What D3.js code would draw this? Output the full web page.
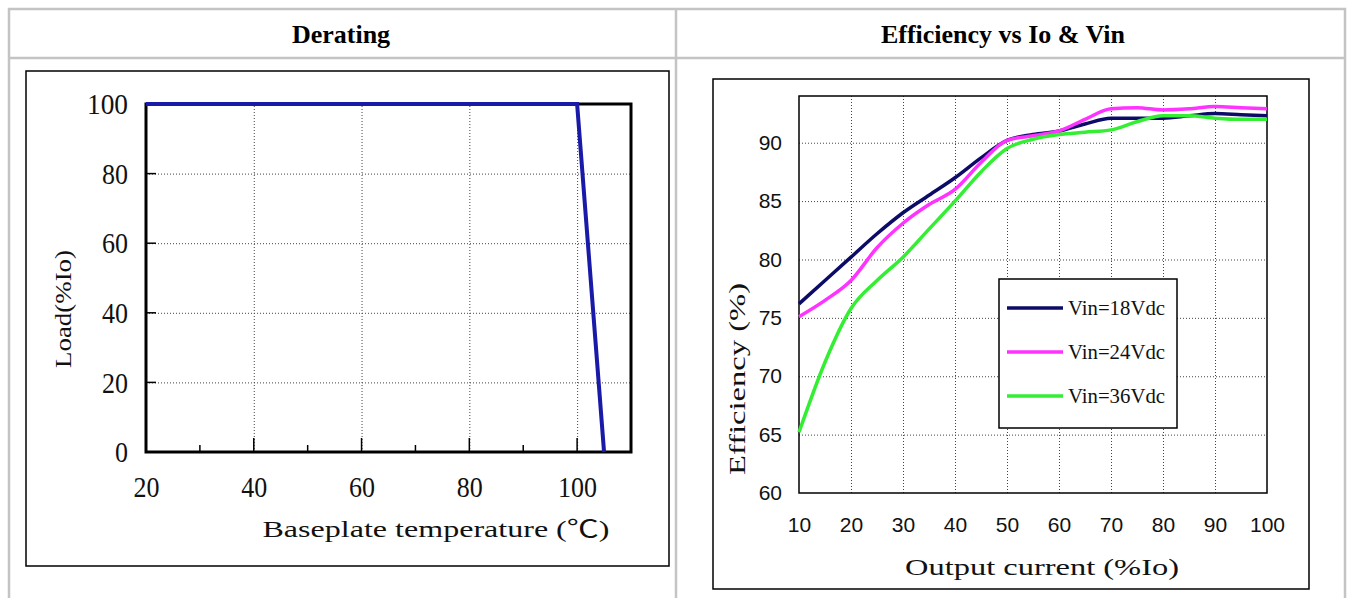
<!DOCTYPE html>
<html>
<head>
<meta charset="utf-8">
<script src="https://cdn.jsdelivr.net/npm/d3@7"></script>
<style>
body { margin: 0; background: #fff; }
.grid line { stroke: #444; stroke-width: 1; stroke-dasharray: 1,2; }
.grid path { display: none; }
.lbl path, .lbl line { display: none; }
</style>
</head>
<body>
<svg id="page" width="1351" height="598"></svg>
<script>
// derating (left)
var temps = [20, 100, 105]
var loads = [100, 100, 0]
var tempTicks = [20, 40, 60, 80, 100]
var tempMinor = [30, 50, 70, 90]
var loadTicks = [0, 20, 40, 60, 80, 100]

// efficiency (right)
var current = [10, 15, 20, 25, 30, 35, 40, 45, 50, 55, 60, 65, 70, 75, 80, 85, 90, 95, 100]
var eff18 = [76.2, 78.2, 80.2, 82.2, 84.0, 85.5, 87.0, 88.7, 90.2, 90.7, 91.0, 91.6, 92.1, 92.1, 92.1, 92.3, 92.5, 92.4, 92.3]
var eff24 = [75.1, 76.5, 78.2, 81.0, 83.1, 84.7, 86.0, 88.3, 90.2, 90.6, 91.0, 92.0, 92.9, 93.0, 92.8, 92.9, 93.1, 93.0, 92.9]
var eff36 = [65.2, 71.2, 75.8, 78.2, 80.2, 82.6, 85.0, 87.5, 89.5, 90.3, 90.7, 90.9, 91.1, 91.8, 92.3, 92.3, 92.1, 92.0, 92.0]
var seriesNames = ["Vin=18Vdc", "Vin=24Vdc", "Vin=36Vdc"]
var seriesColors = ["#0c0c68", "#ff33ff", "#33ee33"]
var currentTicks = [10, 20, 30, 40, 50, 60, 70, 80, 90, 100]
var effTicks = [60, 65, 70, 75, 80, 85, 90]

var svg = d3.select("#page")
var serif = "'Liberation Serif', 'Noto Sans CJK SC', serif"

// ---- table frame ----
var tbl = svg.append("g").attr("fill", "none").attr("stroke", "#c4c4c4").attr("stroke-width", 2.5)
tbl.append("rect").attr("x", 9).attr("y", 9).attr("width", 1336).attr("height", 620)
tbl.append("line").attr("x1", 9).attr("x2", 1345).attr("y1", 58).attr("y2", 58)
tbl.append("line").attr("x1", 676).attr("x2", 676).attr("y1", 9).attr("y2", 620)

svg.append("text").attr("x", 341).attr("y", 43)
    .attr("text-anchor", "middle")
    .style("font-family", "'Liberation Serif', serif").style("font-weight", "bold").style("font-size", "26px")
    .text("Derating")
svg.append("text").attr("x", 1003).attr("y", 43)
    .attr("text-anchor", "middle")
    .style("font-family", "'Liberation Serif', serif").style("font-weight", "bold").style("font-size", "26px")
    .text("Efficiency vs Io & Vin")

// ---- left chart ----
var L = svg.append("g")
L.append("rect").attr("x", 26).attr("y", 71).attr("width", 643).attr("height", 495)
    .attr("fill", "#fff").attr("stroke", "#000").attr("stroke-width", 1.5)

var x1 = d3.scaleLinear().domain([20, 110]).range([146, 631])
var y1 = d3.scaleLinear().domain([0, 100]).range([452, 104])

L.append("g").attr("class", "grid")
    .attr("transform", "translate(0," + y1(0) + ")")
    .call(d3.axisBottom(x1).tickValues(tempTicks.slice(1)).tickSize(-(y1(0) - y1(100))).tickFormat(""))
L.append("g").attr("class", "grid")
    .attr("transform", "translate(" + x1(20) + ",0)")
    .call(d3.axisLeft(y1).tickValues([20, 40, 60, 80]).tickSize(-(x1(110) - x1(20))).tickFormat(""))

// tick stubs
L.selectAll(".majtick").data(tempTicks.slice(1)).enter().append("line")
    .attr("x1", d => x1(d)).attr("x2", d => x1(d))
    .attr("y1", y1(0)).attr("y2", y1(0) - 14)
    .attr("stroke", "#000").attr("stroke-width", 1.5)
L.selectAll(".mintick").data(tempMinor).enter().append("line")
    .attr("x1", d => x1(d)).attr("x2", d => x1(d))
    .attr("y1", y1(0)).attr("y2", y1(0) - 7)
    .attr("stroke", "#000").attr("stroke-width", 1.5)
L.selectAll(".ytick").data([20, 40, 60, 80]).enter().append("line")
    .attr("x1", x1(20)).attr("x2", x1(20) + 10)
    .attr("y1", d => y1(d)).attr("y2", d => y1(d))
    .attr("stroke", "#000").attr("stroke-width", 1.5)

L.append("rect").attr("x", x1(20)).attr("y", y1(100))
    .attr("width", x1(110) - x1(20)).attr("height", y1(0) - y1(100))
    .attr("fill", "none").attr("stroke", "#000").attr("stroke-width", 3)

var derate = d3.line().x((d, i) => x1(temps[i])).y((d, i) => y1(loads[i]))
L.append("path").datum(temps).attr("d", derate)
    .attr("fill", "none").attr("stroke", "#1a1aa8").attr("stroke-width", 4)

// labels
var lx = L.append("g").attr("class", "lbl")
    .attr("transform", "translate(0," + y1(0) + ")")
    .call(d3.axisBottom(x1).tickValues(tempTicks).tickSize(0).tickPadding(24))
lx.selectAll("text").style("font-family", serif).style("font-size", "30px").attr("fill", "#111")
    .attr("textLength", d => d >= 100 ? 39 : 26).attr("lengthAdjust", "spacingAndGlyphs")
var ly = L.append("g").attr("class", "lbl")
    .attr("transform", "translate(" + x1(20) + ",0)")
    .call(d3.axisLeft(y1).tickValues(loadTicks).tickSize(0).tickPadding(18))
ly.selectAll("text").style("font-family", serif).style("font-size", "30px").attr("fill", "#111")
    .attr("textLength", d => d >= 100 ? 41 : (d == 0 ? 13 : 26)).attr("lengthAdjust", "spacingAndGlyphs")

L.append("text").attr("x", 436).attr("y", 537)
    .attr("text-anchor", "middle")
    .style("font-family", serif).style("font-size", "24px").attr("fill", "#111")
    .attr("textLength", 347).attr("lengthAdjust", "spacingAndGlyphs")
    .text("Baseplate temperature (℃)")
L.append("text").attr("transform", "translate(71,309) rotate(-90)")
    .attr("text-anchor", "middle")
    .style("font-family", serif).style("font-size", "23px").attr("fill", "#111")
    .attr("textLength", 118).attr("lengthAdjust", "spacingAndGlyphs")
    .text("Load(%Io)")

// ---- right chart ----
var R = svg.append("g")
R.append("rect").attr("x", 713).attr("y", 79).attr("width", 596).attr("height", 510)
    .attr("fill", "#fff").attr("stroke", "#000").attr("stroke-width", 1.5)

var x2 = d3.scaleLinear().domain([10, 100]).range([799, 1267])
var y2 = d3.scaleLinear().domain([60, 94]).range([493, 96])

R.append("g").attr("class", "grid")
    .attr("transform", "translate(0," + y2(60) + ")")
    .call(d3.axisBottom(x2).tickValues(currentTicks.slice(1, -1)).tickSize(-(y2(60) - y2(94))).tickFormat(""))
R.append("g").attr("class", "grid")
    .attr("transform", "translate(" + x2(10) + ",0)")
    .call(d3.axisLeft(y2).tickValues(effTicks.slice(1)).tickSize(-(x2(100) - x2(10))).tickFormat(""))

R.append("rect").attr("x", x2(10)).attr("y", y2(94))
    .attr("width", x2(100) - x2(10)).attr("height", y2(60) - y2(94))
    .attr("fill", "none").attr("stroke", "#000").attr("stroke-width", 1.5)

var effLine = d3.line().curve(d3.curveMonotoneX).x((d, i) => x2(current[i])).y(d => y2(d))
var allSeries = [eff18, eff24, eff36]
R.selectAll(".eff").data(allSeries).enter().append("path")
    .attr("d", effLine)
    .attr("fill", "none")
    .attr("stroke", (d, i) => seriesColors[i])
    .attr("stroke-width", 3.5)

// legend
var leg = R.append("g")
leg.append("rect").attr("x", 999).attr("y", 279).attr("width", 178).attr("height", 149)
    .attr("fill", "#fff").attr("stroke", "#000").attr("stroke-width", 1.5)
seriesNames.forEach(function (name, i) {
    var yy = 308 + i * 44
    leg.append("line").attr("x1", 1007).attr("x2", 1063).attr("y1", yy).attr("y2", yy)
        .attr("stroke", seriesColors[i]).attr("stroke-width", 3.5)
    leg.append("text").attr("x", 1068).attr("y", yy + 7)
        .style("font-family", serif).style("font-size", "21px").attr("fill", "#111")
        .attr("textLength", 97).attr("lengthAdjust", "spacingAndGlyphs")
        .text(name)
})

var rx = R.append("g").attr("class", "lbl")
    .attr("transform", "translate(0," + y2(60) + ")")
    .call(d3.axisBottom(x2).tickValues(currentTicks).tickSize(0).tickPadding(24))
rx.selectAll("text").style("font-family", "'Liberation Sans', sans-serif").style("font-size", "21px").attr("fill", "#111")
var ry = R.append("g").attr("class", "lbl")
    .attr("transform", "translate(" + x2(10) + ",0)")
    .call(d3.axisLeft(y2).tickValues(effTicks).tickSize(0).tickPadding(17))
ry.selectAll("text").style("font-family", "'Liberation Sans', sans-serif").style("font-size", "21px").attr("fill", "#111")

R.append("text").attr("x", 1042).attr("y", 575)
    .attr("text-anchor", "middle")
    .style("font-family", serif).style("font-size", "24px").attr("fill", "#111")
    .attr("textLength", 274).attr("lengthAdjust", "spacingAndGlyphs")
    .text("Output current (%Io)")
R.append("text").attr("transform", "translate(745,379) rotate(-90)")
    .attr("text-anchor", "middle")
    .style("font-family", serif).style("font-size", "24px").attr("fill", "#111")
    .attr("textLength", 192).attr("lengthAdjust", "spacingAndGlyphs")
    .text("Efficiency (%)")
</script>
</body>
</html>
